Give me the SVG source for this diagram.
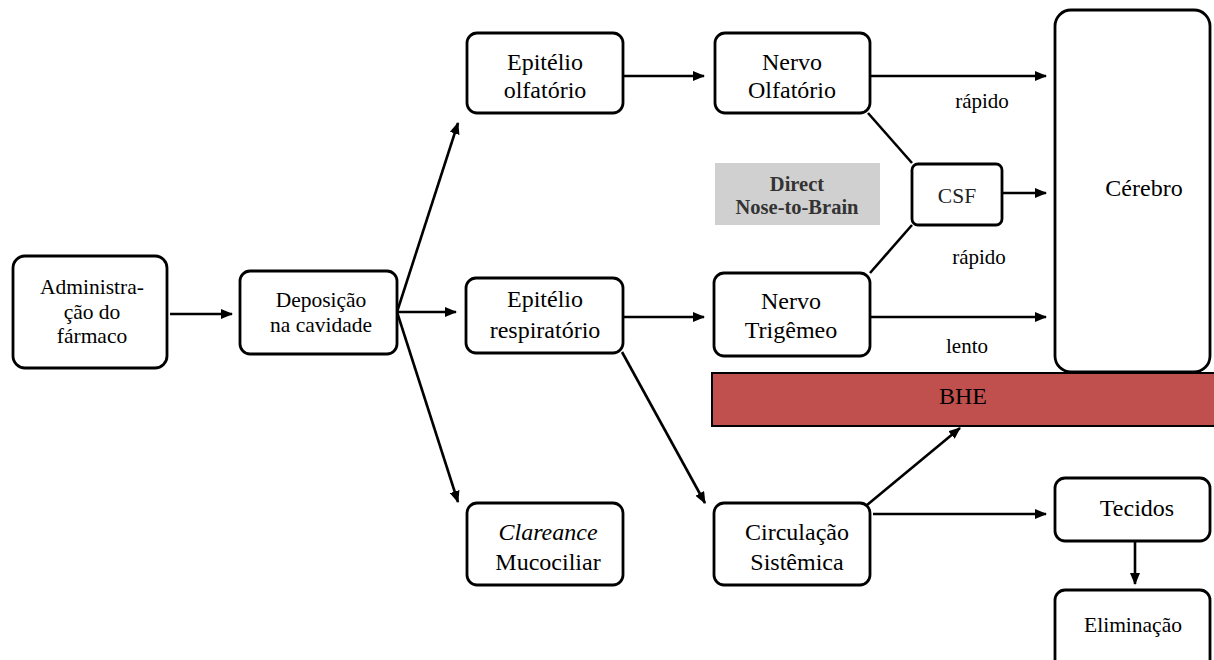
<svg xmlns="http://www.w3.org/2000/svg" width="1214" height="660" viewBox="0 0 1214 660" font-family="Liberation Serif, Times New Roman, serif">
<style>
.box{fill:#fff;stroke:#000;stroke-width:2.8}
.t{font-size:24px;text-anchor:middle;fill:#000}
.s{font-size:21.5px}
.l{font-size:21px;text-anchor:middle;fill:#000}
.c{fill:none;stroke:#000;stroke-width:2.6}
</style>
<defs>
<marker id="ah" markerUnits="userSpaceOnUse" markerWidth="12" markerHeight="10" refX="11" refY="5" orient="auto">
<path d="M0,0 L12,5 L0,10 z" fill="#000"/>
</marker>
</defs>
<rect width="1214" height="660" fill="#fff"/>

<g id="connectors">
<line class="c" x1="170" y1="314" x2="232" y2="314" marker-end="url(#ah)"/>
<line class="c" x1="397" y1="312" x2="458" y2="123" marker-end="url(#ah)"/>
<line class="c" x1="397" y1="312" x2="456" y2="312" marker-end="url(#ah)"/>
<line class="c" x1="397" y1="312" x2="458" y2="502" marker-end="url(#ah)"/>
<line class="c" x1="624" y1="76" x2="704" y2="76" marker-end="url(#ah)"/>
<line class="c" x1="870" y1="76" x2="1046" y2="76" marker-end="url(#ah)"/>
<line class="c" x1="868" y1="113" x2="912" y2="163"/>
<line class="c" x1="870" y1="273" x2="912" y2="225"/>
<line class="c" x1="1002" y1="193" x2="1046" y2="193" marker-end="url(#ah)"/>
<line class="c" x1="624" y1="317" x2="704" y2="317" marker-end="url(#ah)"/>
<line class="c" x1="870" y1="317" x2="1046" y2="317" marker-end="url(#ah)"/>
<line class="c" x1="622" y1="352" x2="705" y2="503" marker-end="url(#ah)"/>
<line class="c" x1="867" y1="505" x2="960" y2="428" marker-end="url(#ah)"/>
<line class="c" x1="873" y1="514" x2="1046" y2="514" marker-end="url(#ah)"/>
<line class="c" x1="1135" y1="541" x2="1135" y2="584" marker-end="url(#ah)"/>
</g>

<g id="admin">
<rect class="box" x="13" y="256" width="154" height="112" rx="12"/>
<text class="t s" x="92" y="294">Administra-</text>
<text class="t s" x="92" y="319">ção do</text>
<text class="t s" x="92" y="343">fármaco</text>
</g>

<g id="deposicao">
<rect class="box" x="240" y="271" width="157" height="83" rx="10"/>
<text class="t s" x="321" y="307">Deposição</text>
<text class="t s" x="321" y="332">na cavidade</text>
</g>

<g id="epitelio-olf">
<rect class="box" x="467" y="33" width="156" height="80" rx="10"/>
<text class="t" x="545" y="70">Epitélio</text>
<text class="t" x="545" y="98">olfatório</text>
</g>

<g id="nervo-olf">
<rect class="box" x="715" y="33" width="155" height="80" rx="10"/>
<text class="t" x="792" y="70">Nervo</text>
<text class="t" x="792" y="98">Olfatório</text>
</g>

<g id="direct">
<rect x="715" y="163" width="165" height="62" fill="#d0d0d0"/>
<text x="797" y="191" font-size="20.5" font-weight="bold" text-anchor="middle" fill="#333">Direct</text>
<text x="797" y="214" font-size="20.5" font-weight="bold" text-anchor="middle" fill="#333">Nose-to-Brain</text>
</g>

<g id="csf">
<rect class="box" x="912" y="164" width="90" height="61" rx="6"/>
<text x="957" y="203" font-size="21.5" text-anchor="middle" fill="#222">CSF</text>
</g>

<g id="epitelio-resp">
<rect class="box" x="466" y="278" width="157" height="75" rx="10"/>
<text class="t" x="545" y="307">Epitélio</text>
<text class="t" x="545" y="338">respiratório</text>
</g>

<g id="nervo-trig">
<rect class="box" x="714" y="273" width="156" height="83" rx="10"/>
<text class="t" x="791" y="309">Nervo</text>
<text class="t" x="791" y="338">Trigêmeo</text>
</g>

<g id="cerebro">
<rect class="box" x="1055" y="10" width="155" height="362" rx="16"/>
<text class="t" x="1144" y="196">Cérebro</text>
</g>

<g id="bhe">
<rect x="712" y="373" width="504" height="53" fill="#c0504d" stroke="#000" stroke-width="2"/>
<text class="t" x="963" y="404">BHE</text>
</g>

<g id="clareance">
<rect class="box" x="467" y="503" width="156" height="82" rx="10"/>
<text class="t" x="548" y="540" font-style="italic">Clareance</text>
<text class="t" x="548" y="570">Mucociliar</text>
</g>

<g id="circulacao">
<rect class="box" x="714" y="503" width="156" height="82" rx="10"/>
<text class="t" x="797" y="540">Circulação</text>
<text class="t" x="797" y="570">Sistêmica</text>
</g>

<g id="tecidos">
<rect class="box" x="1055" y="478" width="155" height="63" rx="10"/>
<text class="t" x="1137" y="516">Tecidos</text>
</g>

<g id="eliminacao">
<rect class="box" x="1055" y="590" width="155" height="80" rx="10"/>
<text class="t s" x="1133" y="632">Eliminação</text>
</g>

<g id="labels">
<text class="l" x="982" y="108">rápido</text>
<text class="l" x="979" y="264">rápido</text>
<text class="l" x="967" y="353">lento</text>
</g>
</svg>
